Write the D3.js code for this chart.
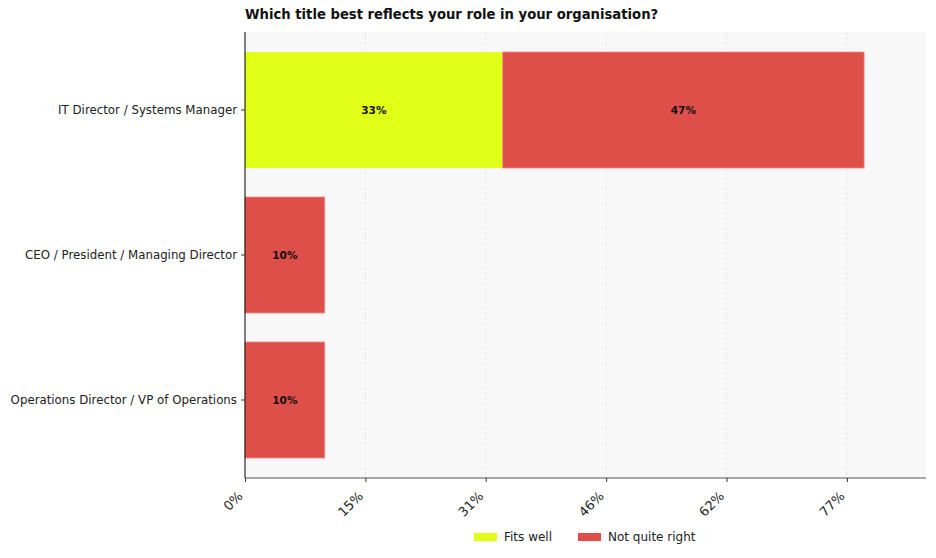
<!DOCTYPE html>
<html>
<head>
<meta charset="utf-8">
<script src="https://cdn.jsdelivr.net/npm/d3@7/dist/d3.min.js"></script>
<style>
  body { margin: 0; background: #fff; }
  svg { font-family: "DejaVu Sans", sans-serif; }
</style>
</head>
<body>
<svg id="chart" width="936" height="558"></svg>
<script>
// data
const categories = [
  'IT Director / Systems Manager',
  'CEO / President / Managing Director',
  'Operations Director / VP of Operations',
];
const seriesNames = ['Fits well', 'Not quite right'];
const fitsWell = [33.3, 0, 0];
const notQuiteRight = [46.7, 10.3, 10.3];
const xTickValues = [0, 15.56, 31.11, 46.67, 62.22, 77.78];
const xTickLabels = ['0%', '15%', '31%', '46%', '62%', '77%'];

const colors = ['#e1ff17', '#de4f4a'];

let margin = {top: 32, right: 10, bottom: 80, left: 245};
let width = 936 - margin.left - margin.right;
let height = 558 - margin.top - margin.bottom;

let svg = d3.select('#chart');

svg.append('text')
   .attr('x', margin.left)
   .attr('y', 19)
   .attr('font-size', 13.2)
   .attr('font-weight', 'bold')
   .attr('fill', '#111')
   .text('Which title best reflects your role in your organisation?');

let g = svg.append('g').attr('transform', `translate(${margin.left}, ${margin.top})`);

let scale = {
  x: d3.scaleLinear().domain([0, 88]).range([0, width]),
  y: d3.scaleBand().domain(categories).range([0, height]).paddingInner(0.2).paddingOuter(0.138),
};

// background
g.append('rect')
 .attr('width', width)
 .attr('height', height)
 .attr('fill', '#f8f8f8');

// grid
g.selectAll('line.grid')
 .data(xTickValues.slice(1))
 .enter()
 .append('line')
 .attr('x1', (d) => scale.x(d))
 .attr('x2', (d) => scale.x(d))
 .attr('y1', 0)
 .attr('y2', height)
 .attr('stroke', '#e4e4e4')
 .attr('stroke-width', 0.8)
 .attr('stroke-dasharray', '3,2');

// stacked rows
let stacked = categories.map((c, i) => [
  {cat: c, x0: 0, v: fitsWell[i], s: 0},
  {cat: c, x0: fitsWell[i], v: notQuiteRight[i], s: 1},
]).flat().filter((d) => d.v > 0);

let bars = g.selectAll('g.bar')
            .data(stacked)
            .enter()
            .append('g')
            .classed('bar', true);

bars.append('rect')
    .attr('x', (d) => scale.x(d.x0))
    .attr('y', (d) => scale.y(d.cat))
    .attr('width', (d) => scale.x(d.v) - scale.x(0))
    .attr('height', scale.y.bandwidth())
    .attr('fill', (d) => colors[d.s])
    .attr('stroke', (d) => d.s === 1 ? '#f08a85' : 'none')
    .attr('stroke-width', 0.8);

bars.append('text')
    .attr('x', (d) => scale.x(d.x0 + d.v / 2))
    .attr('y', (d) => scale.y(d.cat) + scale.y.bandwidth() / 2)
    .attr('dy', '0.35em')
    .attr('text-anchor', 'middle')
    .attr('font-size', 10.5)
    .attr('font-weight', 'bold')
    .attr('fill', '#111')
    .text((d) => Math.round(d.v) + '%');

// axes
let axisY = g.append('g').call(d3.axisLeft(scale.y).tickSize(4).tickPadding(4));
axisY.select('.domain').attr('stroke', '#000').attr('d', `M0,0V${height}`);
axisY.selectAll('.tick line').attr('stroke', '#333');
axisY.selectAll('text').attr('font-size', 11.8).attr('fill', '#222')
     .attr('font-family', '"DejaVu Sans", sans-serif');

let axisX = g.append('g')
             .attr('transform', `translate(0, ${height})`)
             .call(d3.axisBottom(scale.x)
                     .tickValues(xTickValues)
                     .tickFormat((d, i) => xTickLabels[i])
                     .tickSize(4));
axisX.select('.domain').attr('stroke', '#555').attr('d', `M0,0H${width}`);
axisX.selectAll('.tick line').attr('stroke', '#333');
axisX.selectAll('text')
     .attr('font-size', 13)
     .attr('fill', '#222')
     .attr('font-family', '"DejaVu Sans", sans-serif')
     .attr('text-anchor', 'end')
     .attr('dy', null)
     .attr('y', 0)
     .attr('transform', 'translate(-2, 19) rotate(-45)');

// legend
let legend = svg.append('g').attr('transform', 'translate(474, 533)');
let items = legend.selectAll('g.item')
                  .data(seriesNames)
                  .enter()
                  .append('g')
                  .attr('transform', (d, i) => `translate(${i * 104}, 0)`);
items.append('rect')
     .attr('width', 23)
     .attr('height', 8)
     .attr('fill', (d, i) => colors[i]);
items.append('text')
     .attr('x', 30)
     .attr('y', 4)
     .attr('dy', '0.35em')
     .attr('font-size', 12)
     .attr('fill', '#222')
     .text((d) => d);
</script>
</body>
</html>
